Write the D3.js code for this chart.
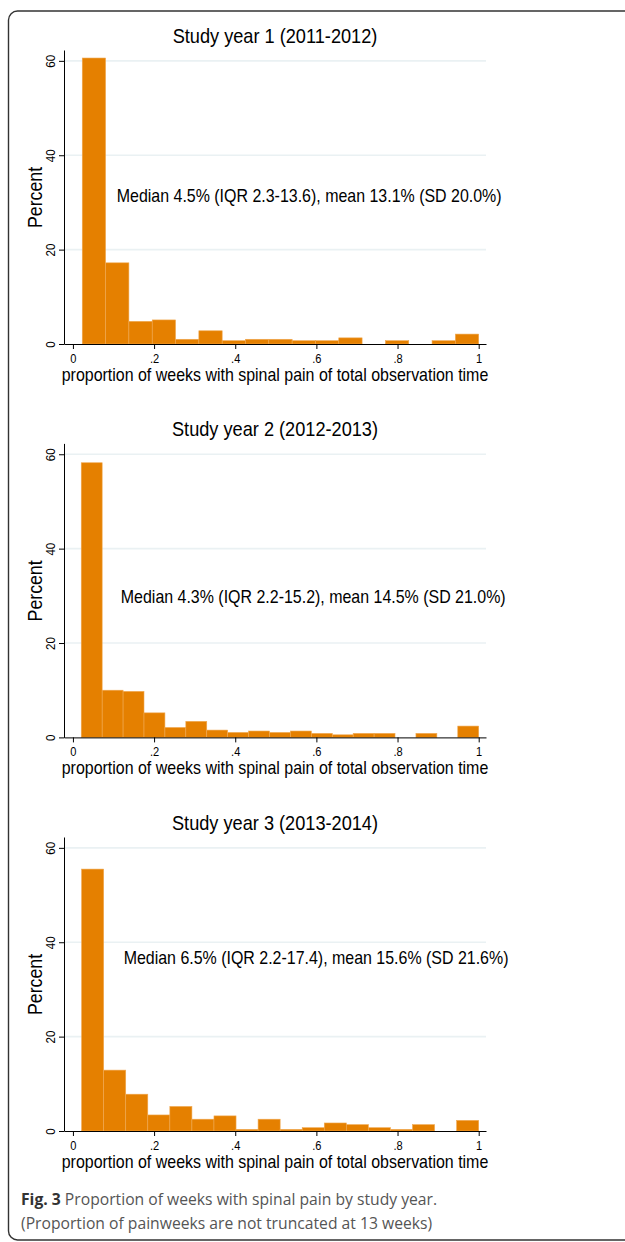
<!DOCTYPE html>
<html>
<head>
<meta charset="utf-8">
<script src="https://cdn.jsdelivr.net/npm/d3@7"></script>
<style>
  body { margin: 0; background: #fff; }
  svg { display: block; }
</style>
</head>
<body>
<div id="chart"></div>
<script>
const WIDTH = 625;
const HEIGHT = 1242;

// histogram bars, percent per bin (bins run from binStart to 1)
const year1Values = [60.6, 17.2, 4.8, 5.1, 1.0, 2.8, 0.7, 1.0, 1.0, 0.7, 0.7, 1.3, 0, 0.7, 0, 0.7, 2.1];
const year2Values = [58.2, 10.0, 9.75, 5.2, 2.1, 3.4, 1.55, 1.05, 1.35, 1.05, 1.35, 0.85, 0.55, 0.85, 0.85, 0, 0.85, 0, 2.4];
const year3Values = [55.5, 12.9, 7.8, 3.4, 5.2, 2.5, 3.2, 0.35, 2.5, 0.35, 0.7, 1.7, 1.35, 0.7, 0.35, 1.35, 0, 2.25];
const binStarts = [0.023, 0.0205, 0.0214];

const titles = ["Study year 1 (2011-2012)", "Study year 2 (2012-2013)", "Study year 3 (2013-2014)"];
const notes = [
  "Median 4.5% (IQR 2.3-13.6), mean 13.1% (SD 20.0%)",
  "Median 4.3% (IQR 2.2-15.2), mean 14.5% (SD 21.0%)",
  "Median 6.5% (IQR 2.2-17.4), mean 15.6% (SD 21.6%)"
];
// where the note's baseline starts, in data units [x, y]
const notePos = [[0.108, 30], [0.118, 28.5], [0.125, 35.3]];

const xTicks = [0, 0.2, 0.4, 0.6, 0.8, 1];
const yTicks = [0, 20, 40, 60];
const xLabel = "proportion of weeks with spinal pain of total observation time";
const yLabel = "Percent";

const panels = [year1Values, year2Values, year3Values];
const panelOffsets = [0, 393.4, 787];

const FONT = "'Liberation Sans', Arial, Helvetica, sans-serif";
const SQUEEZE = 0.887; // the original plot font is a bit narrow
const BAR_FILL = "#e58000";

let svg = d3.select("#chart").append("svg")
  .attr("width", WIDTH)
  .attr("height", HEIGHT);

// figure frame (rounded, runs off right side)
svg.append("rect")
  .attr("x", 8.5)
  .attr("y", 11)
  .attr("width", 700)
  .attr("height", 1229)
  .attr("rx", 9)
  .attr("fill", "none")
  .attr("stroke", "#333")
  .attr("stroke-width", 1.4);

function narrowText(parent, tx, ty, size, anchor, str, rot) {
  return parent.append("text")
    .attr("transform", "translate(" + tx + "," + ty + ")" + (rot ? " rotate(" + rot + ")" : "") + " scale(" + SQUEEZE + ",1)")
    .attr("text-anchor", anchor)
    .style("font-family", FONT)
    .style("font-size", size + "px")
    .attr("fill", "#000")
    .text(str);
}

let x = d3.scaleLinear().domain([-0.022, 1.018]).range([64, 486]);

panels.forEach(function(values, i) {
  let off = panelOffsets[i];
  let y = d3.scaleLinear().domain([0, 62.3]).range([344 + off, 50 + off]);

  let g = svg.append("g");

  // gridlines
  g.selectAll(".grid")
    .data(yTicks.filter(d => d > 0))
    .enter()
    .append("line")
    .attr("x1", x.range()[0])
    .attr("x2", x.range()[1])
    .attr("y1", d => y(d))
    .attr("y2", d => y(d))
    .attr("stroke", "#eaf1f3")
    .attr("stroke-width", 1.6);

  // bins
  let start = binStarts[i];
  let width = (1 - start) / values.length;
  let bins = values.map(function(v, j) {
    return { x0: start + j * width, x1: start + (j + 1) * width, v: v };
  });

  g.selectAll(".bar")
    .data(bins.filter(d => d.v > 0))
    .enter()
    .append("rect")
    .attr("class", "bar")
    .attr("x", d => x(d.x0))
    .attr("width", d => x(d.x1) - x(d.x0))
    .attr("y", d => y(d.v))
    .attr("height", d => y(0) - y(d.v))
    .attr("fill", BAR_FILL)
    .attr("stroke", "#f0a850")
    .attr("stroke-width", 0.6);

  // x axis
  let xAxis = g.append("g")
    .attr("transform", "translate(0," + y(0) + ")")
    .call(d3.axisBottom(x)
      .tickValues(xTicks)
      .tickSize(5)
      .tickSizeOuter(0)
      .tickFormat(d => d === 0 ? "0" : d === 1 ? "1" : d3.format(".1f")(d).replace(/^0/, "")));
  xAxis.selectAll(".tick text")
    .attr("y", null)
    .attr("dy", null)
    .attr("transform", "translate(0,18.5) scale(" + SQUEEZE + ",1)")
    .style("font-family", FONT)
    .style("font-size", "12.5px")
    .attr("fill", "#000");

  // y axis
  let yAxis = g.append("g")
    .attr("transform", "translate(" + x.range()[0] + ",0)")
    .call(d3.axisLeft(y).tickValues(yTicks).tickSize(5).tickSizeOuter(0));
  yAxis.selectAll(".tick text")
    .attr("x", null)
    .attr("dy", null)
    .attr("transform", "translate(-9,0) rotate(-90) scale(" + SQUEEZE + ",1)")
    .attr("text-anchor", "middle")
    .style("font-family", FONT)
    .style("font-size", "13px")
    .attr("fill", "#000");

  g.selectAll(".domain").attr("stroke", "#000").attr("stroke-width", 1);
  g.selectAll(".tick line").attr("stroke", "#000").attr("stroke-width", 1);

  let midX = (x.range()[0] + x.range()[1]) / 2;

  // title
  narrowText(g, midX, 43 + off, 20.5, "middle", titles[i]);

  // axis titles
  narrowText(g, midX, 380.5 + off, 18, "middle", xLabel);
  narrowText(g, 42, 197.5 + off, 20, "middle", yLabel, -90);

  // summary note
  narrowText(g, x(notePos[i][0]), y(notePos[i][1]), 18, "start", notes[i]);
});

// caption
let cap = svg.append("text")
  .attr("x", 21)
  .attr("y", 1205)
  .style("font-family", "'Open Sans', 'Noto Sans', sans-serif")
  .style("font-size", "15.7px")
  .attr("fill", "#555");
cap.append("tspan")
  .style("font-weight", "bold")
  .attr("fill", "#333")
  .text("Fig. 3");
cap.append("tspan").text(" Proportion of weeks with spinal pain by study year.");

svg.append("text")
  .attr("x", 21)
  .attr("y", 1229)
  .style("font-family", "'Open Sans', 'Noto Sans', sans-serif")
  .style("font-size", "15.7px")
  .attr("fill", "#555")
  .text("(Proportion of painweeks are not truncated at 13 weeks)");
</script>
</body>
</html>
